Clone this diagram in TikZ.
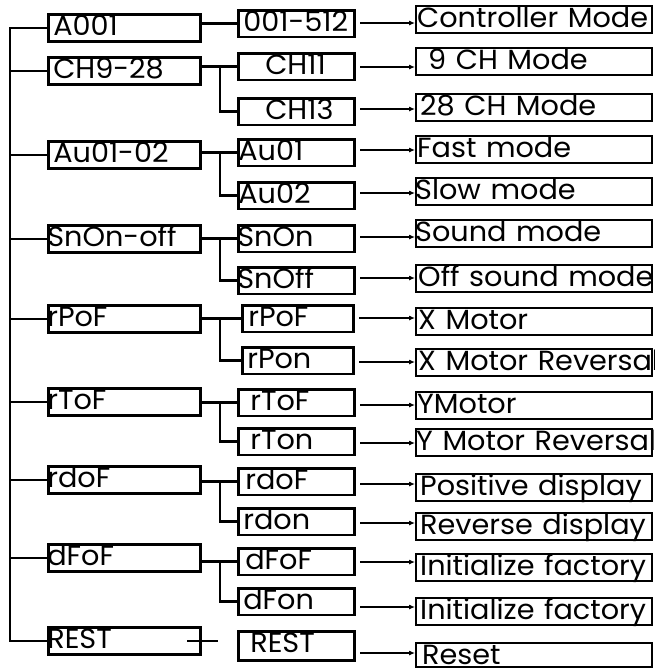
\documentclass[tikz,border=0pt]{standalone}
\usepackage{fontspec}
\setmainfont{Poppins}
\usetikzlibrary{arrows.meta}
% size the labels from the font: cap height 19.3pt, "Controller Mode" 229pt wide
\newlength\lblcap
\newlength\lblwd
\settoheight{\lblcap}{\fontsize{100pt}{100pt}\selectfont H}
\pgfmathsetmacro\lblsize{19.3*100/\lblcap}
\settowidth{\lblwd}{\fontsize{\lblsize pt}{\lblsize pt}\selectfont Controller Mode}
\pgfmathsetmacro\lblscale{229/\lblwd}
\newcommand{\lbl}[2][0pt]{\hspace*{#1}\scalebox{\lblscale}[1]{#2}}

\begin{document}
\begin{tikzpicture}[x=1pt, y=-1pt,
    every node/.style={draw, anchor=north west, inner sep=0pt, align=left,
      font=\fontsize{\lblsize pt}{\lblsize pt}\selectfont, text height=21.5pt},
    menu/.style={line width=2.6pt, text width=152.4pt, minimum height=27.4pt, text depth=5.9pt},
    sub/.style={line width=2.6pt, text width=116.4pt, minimum height=26.6pt, text depth=5.1pt},
    mode/.style={line width=2.4pt, text width=235.6pt, minimum height=26.6pt, text depth=5.1pt},
    fork/.style={line width=2.6pt},
    arr/.style={line width=1.1pt, shorten <=4pt, -{Latex[length=6pt,width=5pt]}}]
    \useasboundingbox (0,0) rectangle (655,670);

    % Menu column
    \node[menu] (a1) at (47,13) {\lbl[5pt]{A001}};
    \node[menu] (a2) at (47,56) {\lbl[5pt]{CH9-28}};
    \node[menu] (a3) at (47,140) {\lbl[5pt]{Au01-02}};
    \node[menu] (a4) at (47,224) {\lbl[-1pt]{SnOn-off}};
    \node[menu] (a5) at (47,304) {\lbl[-1pt]{rPoF}};
    \node[menu] (a6) at (47,387) {\lbl[-1pt]{rToF}};
    \node[menu] (a7) at (47,465) {\lbl[-1pt]{rdoF}};
    \node[menu] (a8) at (47,543) {\lbl[-1pt]{dFoF}};
    \node[menu] (a9) at (47,626) {\lbl[-1pt]{REST}};

    % Setting column
    \node[sub] (b1) at (237,9) {\lbl[5pt]{001-512}};
    \node[sub] (b2) at (237,52) {\lbl[27pt]{CH11}};
    \node[sub] (b3) at (237,97) {\lbl[27pt]{CH13}};
    \node[sub] (b4) at (237,138) {\lbl{Au01}};
    \node[sub] (b5) at (237,181) {\lbl{Au02}};
    \node[sub] (b6) at (237,224) {\lbl[-1pt]{SnOn}};
    \node[sub] (b7) at (237,266) {\lbl[-1pt]{SnOff}};
    \node[sub, text width=111.4pt] (b8) at (241,304) {\lbl[6pt]{rPoF}};
    \node[sub, text width=111.4pt] (b9) at (241,346) {\lbl[5pt]{rPon}};
    \node[sub] (b10) at (237,388) {\lbl[12pt]{rToF}};
    \node[sub] (b11) at (237,427) {\lbl[12pt]{rTon}};
    \node[sub] (b12) at (237,467) {\lbl[7pt]{rdoF}};
    \node[sub] (b13) at (237,507) {\lbl[5pt]{rdon}};
    \node[sub] (b14) at (237,547) {\lbl[7pt]{dFoF}};
    \node[sub] (b15) at (237,587) {\lbl[5pt]{dFon}};
    \node[sub, minimum height=29.4pt, text depth=7.9pt] (b16) at (237,630) {\lbl[12pt]{REST}};

    % Function column
    \node[mode] (c1) at (415,5) {\lbl[1pt]{Controller Mode}};
    \node[mode] (c2) at (415,47) {\lbl[12pt]{9 CH Mode}};
    \node[mode] (c3) at (415,93) {\lbl[4pt]{28 CH Mode}};
    \node[mode] (c4) at (415,135) {\lbl[1pt]{Fast mode}};
    \node[mode] (c5) at (415,177) {\lbl[-1pt]{Slow mode}};
    \node[mode] (c6) at (415,219) {\lbl[-1pt]{Sound mode}};
    \node[mode] (c7) at (415,264) {\lbl[2pt]{Off sound mode}};
    \node[mode] (c8) at (415,307) {\lbl[2pt]{X Motor}};
    \node[mode] (c9) at (415,348) {\lbl[2pt]{X Motor Reversal}};
    \node[mode] (c10) at (415,391) {\lbl[1pt]{YMotor}};
    \node[mode] (c11) at (415,428) {\lbl{Y Motor Reversal}};
    \node[mode] (c12) at (415,473) {\lbl[4pt]{Positive display}};
    \node[mode] (c13) at (415,512) {\lbl[4pt]{Reverse display}};
    \node[mode] (c14) at (415,553) {\lbl[4pt]{Initialize factory}};
    \node[mode] (c15) at (415,597) {\lbl[4pt]{Initialize factory}};
    \node[mode, minimum height=23.6pt, text depth=2.1pt] (c16) at (415,642) {\lbl[6pt]{Reset}};

    % Spine and branches
    \coordinate (spine) at (10,0);
    \draw[fork] (a1.west) -| (spine |- a9.west) -- (a9.west);
    \foreach \i in {2,...,8} \draw[fork] (spine |- a\i.west) -- (a\i.west);

    % Forks to settings
    \draw[fork] (a1.east |- b1.west) -- (b1.west);
    \foreach \i/\j/\k in {2/2/3, 3/4/5, 4/6/7, 5/8/9, 6/10/11, 7/12/13, 8/14/15}
        \draw[fork] (a\i.east |- b\j.west) -- (b\j.west)
            (a\i.east |- b\j.west) ++(18pt,0) |- (b\k.west);
    \draw[fork] ([xshift=-15pt]a9.east) -- ([xshift=16pt]a9.east);

    % Arrows to functions
    \foreach \i/\ay in {1/23, 2/67, 3/109, 4/150, 5/193, 6/237, 7/278, 8/318,
        9/362, 10/405, 11/443, 12/484, 13/523, 14/562, 15/607, 16/653}
        \draw[arr] (b\i.east |- 0,\ay) -- (c\i.west |- 0,\ay);
\end{tikzpicture}
\end{document}
